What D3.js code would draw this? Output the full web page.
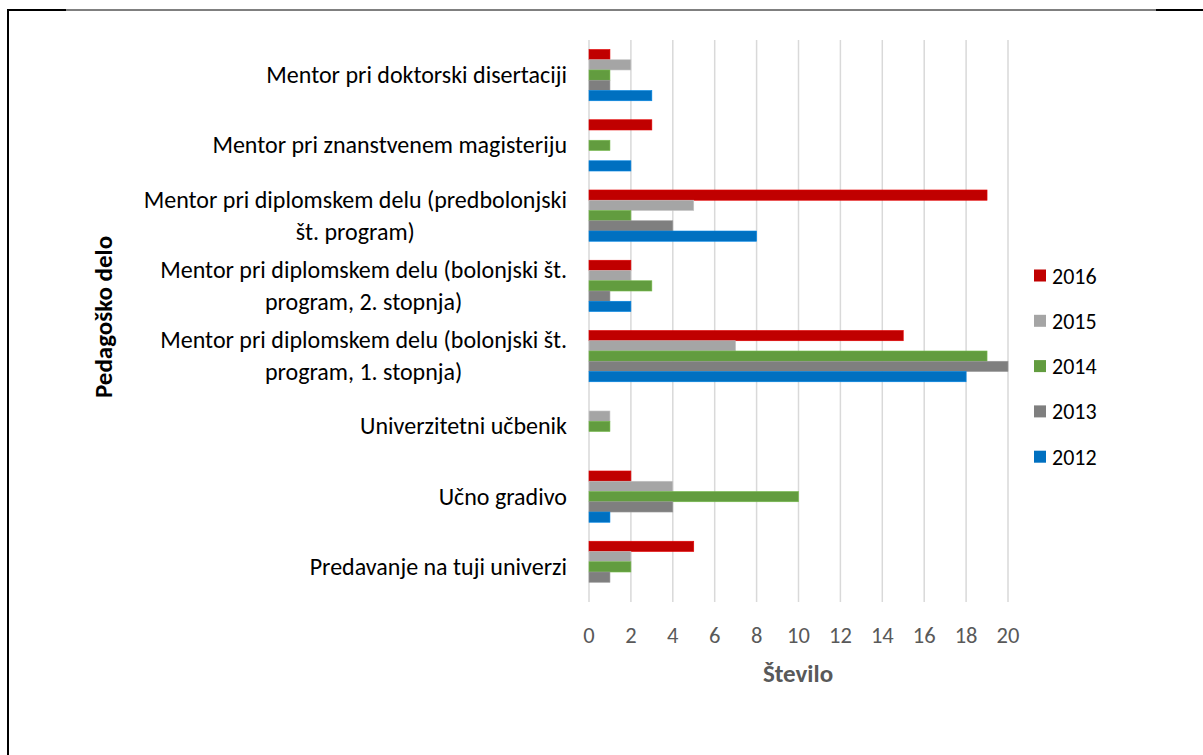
<!DOCTYPE html>
<html>
<head>
<meta charset="utf-8">
<script src="https://cdn.jsdelivr.net/npm/d3@7"></script>
<style>
  body { margin: 0; background: #fff; }
  svg text { font-family: Carlito, Calibri, "Open Sans", sans-serif; }
</style>
</head>
<body>
<svg id="chart" width="1203" height="755"></svg>
<script>
// Categories top to bottom, each label split into its lines
const categories = [
    ["Mentor pri doktorski disertaciji"],
    ["Mentor pri znanstvenem magisteriju"],
    ["Mentor pri diplomskem delu (predbolonjski", "št. program)"],
    ["Mentor pri diplomskem delu (bolonjski št.", "program, 2. stopnja)"],
    ["Mentor pri diplomskem delu (bolonjski št.", "program, 1. stopnja)"],
    ["Univerzitetni učbenik"],
    ["Učno gradivo"],
    ["Predavanje na tuji univerzi"]
];
const years = ["2016", "2015", "2014", "2013", "2012"];
const v2016 = [1, 3, 19, 2, 15, 0, 2, 5];
const v2015 = [2, 0, 5, 2, 7, 1, 4, 2];
const v2014 = [1, 1, 2, 3, 19, 1, 10, 2];
const v2013 = [1, 0, 4, 1, 20, 0, 4, 1];
const v2012 = [3, 2, 8, 2, 18, 0, 1, 0];
const xTicks = [0, 2, 4, 6, 8, 10, 12, 14, 16, 18, 20];

const seriesValues = [v2016, v2015, v2014, v2013, v2012];
const colors = ["#C00000", "#A5A5A5", "#629C3F", "#7F7F7F", "#0070C0"];

const svg = d3.select('#chart');

// Frame (document cell border)
svg.append('line').attr('x1', 8).attr('y1', 10).attr('x2', 1203).attr('y2', 10)
    .attr('stroke', '#000').attr('stroke-width', 1);
svg.append('line').attr('x1', 8).attr('y1', 10).attr('x2', 66).attr('y2', 10)
    .attr('stroke', '#000').attr('stroke-width', 2);
svg.append('line').attr('x1', 1156).attr('y1', 10).attr('x2', 1203).attr('y2', 10)
    .attr('stroke', '#000').attr('stroke-width', 2);
svg.append('line').attr('x1', 8).attr('y1', 9).attr('x2', 8).attr('y2', 755)
    .attr('stroke', '#000').attr('stroke-width', 2);

// Scales
const x = d3.scaleLinear().domain([0, 20]).range([589, 1008]);
const y = d3.scaleBand().domain(d3.range(categories.length)).range([40, 602])
    .paddingInner(0.27).paddingOuter(0.135);
const ySub = d3.scaleBand().domain(years).range([0, y.bandwidth()]);

// Gridlines
svg.append('g').selectAll('line').data(xTicks).enter().append('line')
    .attr('x1', d => x(d)).attr('x2', d => x(d))
    .attr('y1', 40).attr('y2', 602)
    .attr('stroke', '#D9D9D9').attr('stroke-width', 1.5);

// Bars
years.forEach((yr, si) => {
    svg.append('g').selectAll('rect')
        .data(seriesValues[si].map((v, i) => ({ v, i })).filter(d => d.v > 0))
        .enter().append('rect')
        .attr('x', x(0))
        .attr('y', d => y(d.i) + ySub(yr))
        .attr('width', d => x(d.v) - x(0))
        .attr('height', ySub.bandwidth())
        .attr('fill', colors[si])
        .attr('stroke', d3.color(colors[si]).brighter(0.5))
        .attr('stroke-width', 0.6);
});

// X axis tick labels
svg.append('g').selectAll('text').data(xTicks).enter().append('text')
    .attr('x', d => x(d)).attr('y', 643)
    .attr('text-anchor', 'middle')
    .attr('font-size', 22.5).attr('fill', '#595959')
    .text(d => d);

svg.append('text').attr('x', 798).attr('y', 682)
    .attr('text-anchor', 'middle').attr('font-size', 25).attr('font-weight', 'bold')
    .attr('fill', '#595959').text('Število');

// Category labels: lines centred on each other, block right-aligned
const labelGroups = svg.append('g').selectAll('g').data(categories).enter().append('g');
labelGroups.each(function (lines, i) {
    const g = d3.select(this);
    const cy = y(i) + y.bandwidth() / 2;
    const lh = 32;
    const texts = lines.map((ln, k) => g.append('text')
        .attr('y', cy + (k - (lines.length - 1) / 2) * lh + 8)
        .attr('font-size', 24).attr('fill', '#000')
        .attr('text-anchor', 'middle').text(ln));
    const w = d3.max(texts, t => t.node().getComputedTextLength());
    texts.forEach(t => t.attr('x', 567 - w / 2));
});

// Y axis title
svg.append('text')
    .attr('transform', 'translate(112,317) rotate(-90)')
    .attr('text-anchor', 'middle').attr('font-size', 25).attr('font-weight', 'bold')
    .attr('fill', '#000').text('Pedagoško delo');

// Legend
const legend = svg.append('g').selectAll('g').data(years).enter().append('g')
    .attr('transform', (d, i) => `translate(1034,${275.5 + i * 45.3})`);
legend.append('rect').attr('x', 0).attr('y', -6).attr('width', 12).attr('height', 12)
    .attr('fill', (d, i) => colors[i]);
legend.append('text').attr('x', 18).attr('y', 8)
    .attr('font-size', 22).attr('fill', '#000').text(d => d);
</script>
</body>
</html>
